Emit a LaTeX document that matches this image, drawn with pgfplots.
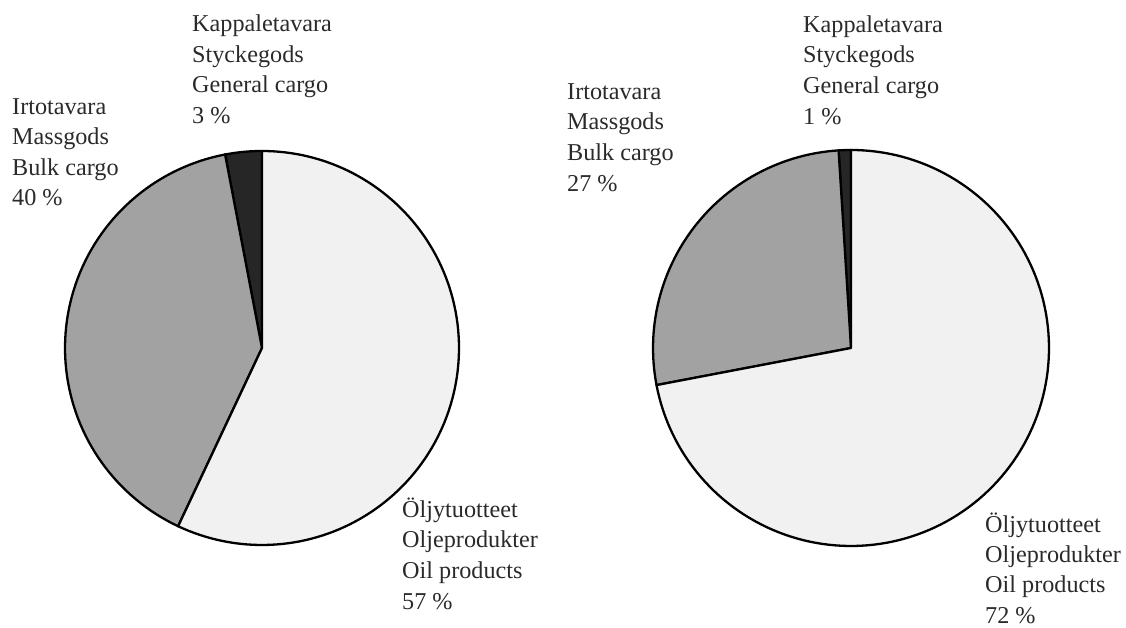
\documentclass[border=0pt]{standalone}
\usepackage{pgfplots}
\pgfplotsset{compat=1.18}
\usepackage{fontspec}
\setmainfont{Liberation Serif}
\definecolor{oilc}{HTML}{F1F1F1}
\definecolor{bulkc}{HTML}{A2A2A2}
\definecolor{genc}{HTML}{262626}
\definecolor{txt}{HTML}{2A2A2A}
% shares in percent (left chart, right chart)
\def\genL{3}\def\bulkL{40}\def\oilL{57}
\def\genR{1}\def\bulkR{27}\def\oilR{72}
\pgfmathsetmacro\aLa{90}
\pgfmathsetmacro\aLb{90+3.6*\genL}
\pgfmathsetmacro\aLc{\aLb+3.6*\bulkL}
\pgfmathsetmacro\aLd{\aLc+3.6*\oilL}
\pgfmathsetmacro\aRa{90}
\pgfmathsetmacro\aRb{90+3.6*\genR}
\pgfmathsetmacro\aRc{\aRb+3.6*\bulkR}
\pgfmathsetmacro\aRd{\aRc+3.6*\oilR}
\newcommand\lab[3]{\node[anchor=base west,inner sep=0pt,text=txt,font=\fontsize{24.2}{30}\selectfont] at (#1pt,{628pt-#2pt}) {#3};}
\begin{document}
\begin{tikzpicture}
\path[use as bounding box] (0,0) rectangle (1126pt,628pt);
\pgfplotsset{pie/.style={scale only axis, hide axis, clip=false,
  xmin=-1,xmax=1,ymin=-1,ymax=1, anchor=center}}
\begin{axis}[pie, width=394pt, height=394pt, at={(262pt,280pt)}]
\addplot[fill=genc, draw=black, line width=2.3pt, line join=round, domain=\aLa:\aLb, samples=10, variable=\t] ({cos(t)},{sin(t)}) -- (axis cs:0,0) -- cycle;
\addplot[fill=bulkc, draw=black, line width=2.3pt, line join=round, domain=\aLb:\aLc, samples=80, variable=\t] ({cos(t)},{sin(t)}) -- (axis cs:0,0) -- cycle;
\addplot[fill=oilc, draw=black, line width=2.3pt, line join=round, domain=\aLc:\aLd, samples=120, variable=\t] ({cos(t)},{sin(t)}) -- (axis cs:0,0) -- cycle;
\end{axis}
\begin{axis}[pie, width=396pt, height=396pt, at={(851pt,280pt)}]
\addplot[fill=genc, draw=black, line width=2.3pt, line join=round, domain=\aRa:\aRb, samples=5, variable=\t] ({cos(t)},{sin(t)}) -- (axis cs:0,0) -- cycle;
\addplot[fill=bulkc, draw=black, line width=2.3pt, line join=round, domain=\aRb:\aRc, samples=60, variable=\t] ({cos(t)},{sin(t)}) -- (axis cs:0,0) -- cycle;
\addplot[fill=oilc, draw=black, line width=2.3pt, line join=round, domain=\aRc:\aRd, samples=140, variable=\t] ({cos(t)},{sin(t)}) -- (axis cs:0,0) -- cycle;
\end{axis}
% left labels
\lab{192}{32}{Kappaletavara}
\lab{192}{63}{Styckegods}
\lab{192}{93}{General cargo}
\lab{192}{124}{3 \%}
\lab{12}{115}{Irtotavara}
\lab{12}{145}{Massgods}
\lab{12}{176}{Bulk cargo}
\lab{12}{206}{40 \%}
\lab{402}{518}{Öljytuotteet}
\lab{402}{548}{Oljeprodukter}
\lab{402}{579}{Oil products}
\lab{402}{610}{57 \%}
% right labels
\lab{803}{33}{Kappaletavara}
\lab{803}{63}{Styckegods}
\lab{803}{94}{General cargo}
\lab{803}{125}{1 \%}
\lab{567}{100}{Irtotavara}
\lab{567}{130}{Massgods}
\lab{567}{161}{Bulk cargo}
\lab{567}{192}{27 \%}
\lab{985}{533}{Öljytuotteet}
\lab{985}{563}{Oljeprodukter}
\lab{985}{593}{Oil products}
\lab{985}{624}{72 \%}
\end{tikzpicture}
\end{document}
